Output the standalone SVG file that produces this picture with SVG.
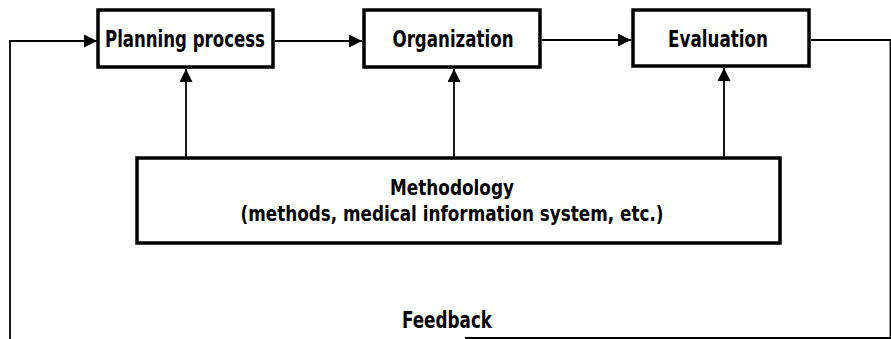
<svg xmlns="http://www.w3.org/2000/svg" width="891" height="339" viewBox="0 0 891 339">
<style>
.box{fill:#fff;stroke:#000;stroke-width:3.5}
.ln{fill:none;stroke:#000;stroke-width:1.8}
.t{font-family:"DejaVu Sans Condensed","DejaVu Sans","Liberation Sans",sans-serif;font-weight:bold;font-stretch:condensed;font-size:23px;fill:#000;text-anchor:middle}
.m{font-size:21px}
</style>
<defs>
<marker id="ah" viewBox="0 0 10 10" refX="10" refY="5" markerWidth="14" markerHeight="13" markerUnits="userSpaceOnUse" orient="auto">
<path d="M0,0 L10,5 L0,10 Z" fill="#000"/>
</marker>
</defs>
<g id="connectors">
<path class="ln" d="M10,339 V41 H97" marker-end="url(#ah)"/>
<path class="ln" d="M275,41 H362" marker-end="url(#ah)"/>
<path class="ln" d="M542,40 H631" marker-end="url(#ah)"/>
<path class="ln" d="M811,40 H890.5 V339"/>
<path class="ln" d="M890,338 H465"/>
<path class="ln" d="M186,157 V69" marker-end="url(#ah)"/>
<path class="ln" d="M454,157 V69" marker-end="url(#ah)"/>
<path class="ln" d="M724,157 V68" marker-end="url(#ah)"/>
</g>
<g id="planning">
<rect class="box" x="98" y="10" width="175" height="57"/>
<text class="t" x="185" y="47" textLength="160" lengthAdjust="spacingAndGlyphs">Planning process</text>
</g>
<g id="organization">
<rect class="box" x="364" y="10" width="176" height="57"/>
<text class="t" x="453" y="47" textLength="121" lengthAdjust="spacingAndGlyphs">Organization</text>
</g>
<g id="evaluation">
<rect class="box" x="633" y="10" width="176" height="56"/>
<text class="t" x="718" y="47" textLength="100" lengthAdjust="spacingAndGlyphs">Evaluation</text>
</g>
<g id="methodology">
<rect class="box" x="137" y="158" width="643" height="85"/>
<text class="t m" x="452" y="195" textLength="124" lengthAdjust="spacingAndGlyphs">Methodology</text>
<text class="t m" x="452" y="221" textLength="423" lengthAdjust="spacingAndGlyphs">(methods, medical information system, etc.)</text>
</g>
<g id="feedback">
<text class="t" x="447" y="328" textLength="90" lengthAdjust="spacingAndGlyphs">Feedback</text>
</g>
</svg>
